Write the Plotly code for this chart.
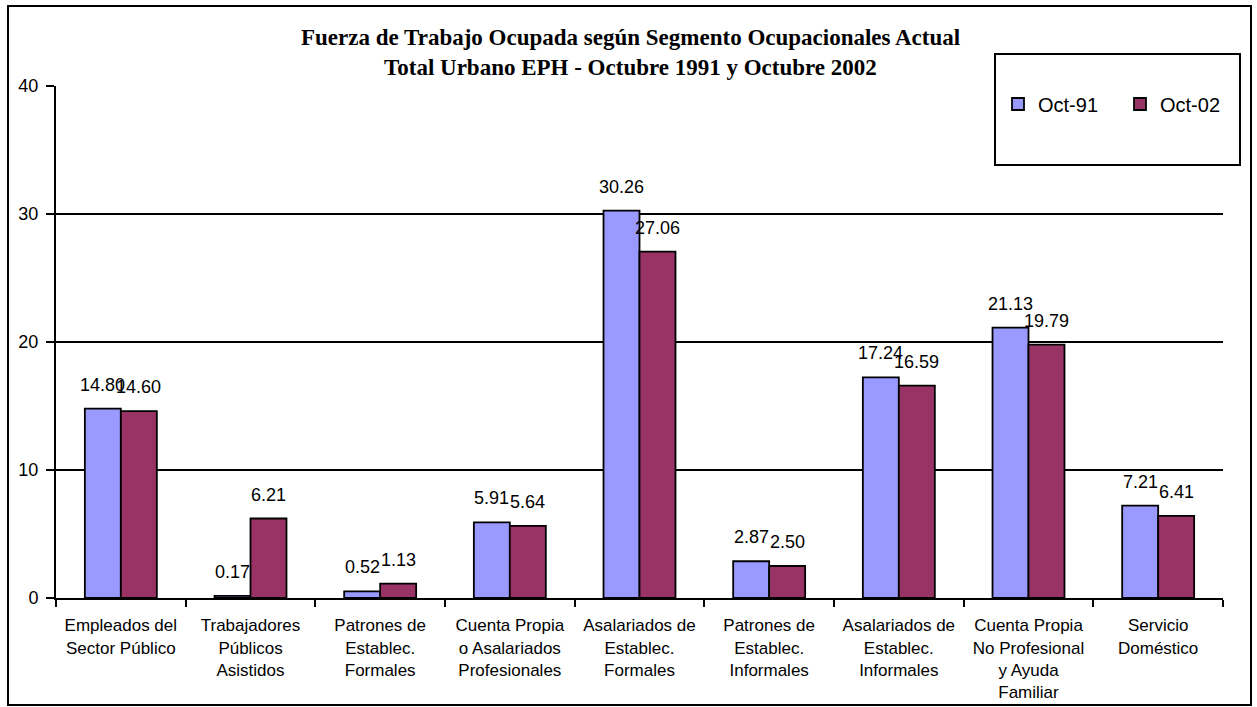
import plotly.graph_objects as go

categories = [
    "Empleados del<br>Sector Público",
    "Trabajadores<br>Públicos<br>Asistidos",
    "Patrones de<br>Establec.<br>Formales",
    "Cuenta Propia<br>o Asalariados<br>Profesionales",
    "Asalariados de<br>Establec.<br>Formales",
    "Patrones de<br>Establec.<br>Informales",
    "Asalariados de<br>Establec.<br>Informales",
    "Cuenta Propia<br>No Profesional<br>y Ayuda<br>Familiar",
    "Servicio<br>Doméstico",
]
oct91 = [14.80, 0.17, 0.52, 5.91, 30.26, 2.87, 17.24, 21.13, 7.21]
oct02 = [14.60, 6.21, 1.13, 5.64, 27.06, 2.50, 16.59, 19.79, 6.41]
series_names = ["Oct-91", "Oct-02"]
y_ticks = [0, 10, 20, 30, 40]
title_lines = [
    "Fuerza de Trabajo Ocupada según Segmento Ocupacionales Actual",
    "Total Urbano EPH - Octubre 1991 y Octubre 2002",
]

BLUE = "#9999FF"
MAROON = "#993366"
SANS = "Liberation Sans, Arial, sans-serif"
SERIF = "Liberation Serif, Times New Roman, serif"

W, H = 1257, 707
PL, PR, PT, PB = 56, 1223, 86, 598  # plot area in page pixels


def px(x):
    return (x - PL) / (PR - PL)


def py(y):
    return (PB - y) / (PB - PT)


fig = go.Figure()
fig.add_trace(go.Bar(x=categories, y=oct91, name=series_names[0],
                     marker=dict(color=BLUE, line=dict(color="black", width=1.8))))
fig.add_trace(go.Bar(x=categories, y=oct02, name=series_names[1],
                     marker=dict(color=MAROON, line=dict(color="black", width=1.8))))

annotations = []
for vals, shift in ((oct91, -18), (oct02, 18)):
    for c, v in zip(categories, vals):
        annotations.append(dict(
            x=c, y=v, xref="x", yref="y", text=f"{v:.2f}", showarrow=False,
            xshift=shift, yshift=24, yanchor="middle", xanchor="center",
            font=dict(family=SANS, size=18, color="black")))

for line, ypix in zip(title_lines, (37, 67)):
    annotations.append(dict(
        xref="paper", yref="paper", x=px(630), y=py(ypix),
        text=f"<b>{line}</b>", showarrow=False, xanchor="center", yanchor="middle",
        font=dict(family=SERIF, size=23, color="black")))

shapes = [
    # outer chart border
    dict(type="rect", xref="paper", yref="paper",
         x0=px(8), x1=px(1251), y0=py(705), y1=py(6),
         line=dict(color="black", width=2), fillcolor="rgba(0,0,0,0)", layer="below"),
    # legend box
    dict(type="rect", xref="paper", yref="paper",
         x0=px(995), x1=px(1240), y0=py(165), y1=py(54),
         line=dict(color="black", width=2), fillcolor="white", layer="above"),
]

fig.update_layout(
    width=W, height=H,
    margin=dict(l=PL, r=W - PR, t=PT, b=H - PB, autoexpand=False),
    paper_bgcolor="white", plot_bgcolor="white",
    barmode="group", bargap=0.445, bargroupgap=0,
    showlegend=True,
    legend=dict(orientation="h", x=px(998), y=py(104),
                xanchor="left", yanchor="middle",
                font=dict(family=SANS, size=20, color="black"),
                bgcolor="rgba(0,0,0,0)", borderwidth=0,
                entrywidth=77, entrywidthmode="pixels",
                traceorder="normal"),
    annotations=annotations,
    shapes=shapes,
    font=dict(family=SANS, color="black"),
)
fig.update_xaxes(
    showline=True, linecolor="black", linewidth=2,
    ticks="outside", tickson="boundaries", ticklen=7, tickwidth=2, tickcolor="black",
    tickfont=dict(family=SANS, size=17, color="black"),
    ticklabelstandoff=11, showgrid=False, fixedrange=True, automargin=False,
)
fig.update_yaxes(
    range=[0, 40], tickvals=y_ticks, ticktext=[str(t) for t in y_ticks],
    showline=True, linecolor="black", linewidth=2,
    ticks="outside", ticklen=8, tickwidth=2, tickcolor="black",
    tickfont=dict(family=SANS, size=18, color="black"),
    ticklabelstandoff=4, automargin=False,
    showgrid=True, gridcolor="black", gridwidth=2,
    zeroline=False, fixedrange=True,
)

fig.write_html(
    "out.html",
    config={"displayModeBar": False, "staticPlot": True},
    post_script="document.body.style.margin='0';document.body.style.overflow='hidden';",
)
